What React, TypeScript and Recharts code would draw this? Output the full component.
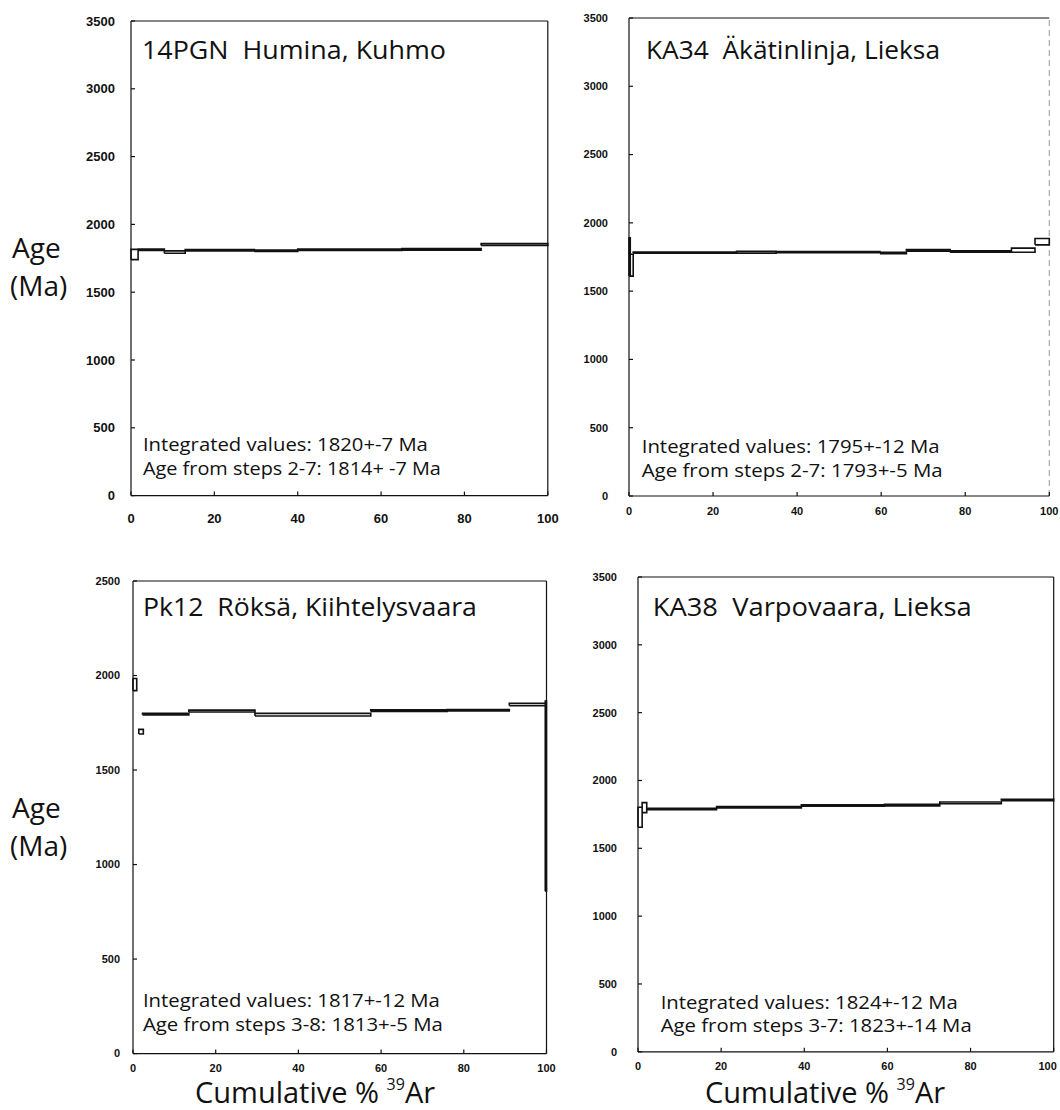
import { LineChart, Line, XAxis, YAxis, ReferenceLine } from 'recharts';

const xTicks = [0, 20, 40, 60, 80, 100];
const yTicks3500 = [0, 500, 1000, 1500, 2000, 2500, 3000, 3500];
const yTicks2500 = [0, 500, 1000, 1500, 2000, 2500];

// 14PGN Humina, Kuhmo  (step start %, end %, age Ma, +- Ma)
const humStart = [0, 1.7, 8, 13, 29.6, 40, 65, 84];
const humEnd = [1.7, 8, 13, 29.6, 40, 65, 84, 100];
const humAge = [1778, 1813, 1796, 1810, 1806, 1813, 1816, 1852];
const humErr = [38, 6, 9, 5, 5, 5, 6, 7];

// KA34 Äkätinlinja, Lieksa
const akaStart = [0, 0.3, 1, 25.6, 35, 59.7, 66, 76.4, 91, 96.6];
const akaEnd = [0.3, 1, 25.6, 35, 59.7, 66, 76.4, 91, 96.6, 100];
const akaAge = [1750, 1690, 1782, 1784, 1786, 1780, 1798, 1790, 1800, 1862];
const akaErr = [140, 80, 4, 7, 4, 5, 6, 5, 15, 23];

// Pk12 Röksä, Kiihtelysvaara
const rokStart = [0, 1.4, 2.3, 13.5, 29.5, 57.5, 76, 91, 99.7];
const rokEnd = [0.9, 2.5, 13.5, 29.5, 57.5, 76, 91, 99.7, 100];
const rokAge = [1952, 1703, 1796, 1812, 1793, 1814, 1816, 1847, 1362];
const rokErr = [32, 12, 4, 5, 7, 4, 4, 6, 503];

// KA38 Varpovaara, Lieksa
const varStart = [0, 1, 2.1, 18.9, 39.3, 59.3, 72.6, 87.4];
const varEnd = [1, 2.1, 18.9, 39.3, 59.3, 72.6, 87.4, 100];
const varAge = [1729, 1800, 1790, 1802, 1816, 1818, 1835, 1856];
const varErr = [74, 37, 5, 5, 5, 6, 6, 5];

type Pt = { x: number; y: number | null };

// each heating step drawn as a closed box, boxes separated by a null
function boxes(start: number[], end: number[], age: number[], err: number[]) {
  const pts: Pt[] = [];
  start.forEach((s, i) => {
    const lo = age[i] - err[i];
    const hi = age[i] + err[i];
    const e = end[i];
    pts.push({ x: s, y: lo }, { x: s, y: hi }, { x: e, y: hi }, { x: e, y: lo }, { x: s, y: lo }, { x: e, y: null });
  });
  return pts;
}

const ink = '#111';
const tickFamily = 'Liberation Sans, Arial, sans-serif';

function XTick(props: any) {
  const { x, y, payload, fontSize, lastDx } = props;
  const dx = payload.value === 100 ? lastDx : 0;
  return (
    <text x={x + dx} y={y} dy="0.71em" textAnchor="middle" fontSize={fontSize} fontWeight="bold" fontFamily={tickFamily} fill={ink}>
      {payload.value}
    </text>
  );
}

interface PanelProps {
  left: number;
  top: number;
  right: number;
  bottom: number;
  yMax: number;
  yTicks: number[];
  data: Pt[];
  fontSize: number;
  yGap: number;
  xGap: number;
  lastDx?: number;
  frameRight?: string;
}

function Panel({ left, top, right, bottom, yMax, yTicks, data, fontSize, yGap, xGap, lastDx = 0, frameRight = ink }: PanelProps) {
  const mt = 12;
  const mr = Math.min(20, 1060 - right);
  const yw = 60;
  const xh = 40;
  const tick = { fill: ink, fontSize, fontWeight: 'bold', fontFamily: tickFamily };
  return (
    <div style={{ position: 'absolute', left: left - yw, top: top - mt }}>
      <LineChart
        width={right - left + yw + mr}
        height={bottom - top + mt + xh}
        data={data}
        margin={{ top: mt, right: mr, bottom: 0, left: 0 }}
      >
        <XAxis
          dataKey="x"
          type="number"
          domain={[0, 100]}
          ticks={xTicks}
          interval={0}
          tickSize={-4}
          tickMargin={xGap}
          height={xh}
          stroke={ink}
          strokeWidth={1.2}
          tick={<XTick fontSize={fontSize} lastDx={lastDx} />}
        />
        <YAxis
          type="number"
          domain={[0, yMax]}
          ticks={yTicks}
          interval={0}
          tickSize={-4}
          tickMargin={yGap}
          width={yw}
          stroke={ink}
          strokeWidth={1.2}
          tick={tick}
        />
        <ReferenceLine y={yMax} stroke={ink} strokeWidth={1.2} />
        <ReferenceLine x={100} stroke={frameRight} strokeWidth={1.2} strokeDasharray={frameRight === ink ? undefined : '6 4'} />
        <Line
          dataKey="y"
          type="linear"
          stroke={ink}
          strokeWidth={1.6}
          dot={false}
          connectNulls={false}
          isAnimationActive={false}
        />
      </LineChart>
    </div>
  );
}

const gothic = '"Open Sans", "DejaVu Sans", sans-serif';

function Txt({ x, y, w, size, children }: { x: number; y: number; w?: number; size: number; children: any }) {
  return (
    <text x={x} y={y} fontSize={size} fontFamily={gothic} fill={ink} style={{ whiteSpace: 'pre' }}
      textLength={w} lengthAdjust={w ? 'spacingAndGlyphs' : undefined}>
      {children}
    </text>
  );
}

function XTitle({ x, y }: { x: number; y: number }) {
  return (
    <text x={x} y={y} fontSize={29} fontFamily={gothic} fill={ink}>
      Cumulative %{' '}
      <tspan fontSize={16} dy={-13}>39</tspan>
      <tspan dy={13}>Ar</tspan>
    </text>
  );
}

export default function App() {
  return (
    <div style={{ position: 'absolute', left: 0, top: 0, width: 1060, height: 1110, overflow: 'hidden', background: '#fff' }}>
      <Panel left={131.4} top={21.3} right={548.2} bottom={495.9} yMax={3500} yTicks={yTicks3500}
        data={boxes(humStart, humEnd, humAge, humErr)} fontSize={13} yGap={20} xGap={22} />
      <Panel left={629} top={17.9} right={1049.3} bottom={495.9} yMax={3500} yTicks={yTicks3500}
        data={boxes(akaStart, akaEnd, akaAge, akaErr)} fontSize={11} yGap={25} xGap={15} frameRight="#aaa" />
      <Panel left={132.9} top={580.7} right={546.4} bottom={1053.3} yMax={2500} yTicks={yTicks2500}
        data={boxes(rokStart, rokEnd, rokAge, rokErr)} fontSize={11} yGap={17} xGap={15} />
      <Panel left={638.3} top={577} right={1054} bottom={1051.8} yMax={3500} yTicks={yTicks3500}
        data={boxes(varStart, varEnd, varAge, varErr)} fontSize={11} yGap={25} xGap={14} lastDx={-6} />

      <svg width={1060} height={1110} style={{ position: 'absolute', left: 0, top: 0, pointerEvents: 'none' }}>
        <Txt x={142} y={58.5} w={304} size={26}>14PGN  Humina, Kuhmo</Txt>
        <Txt x={142.9} y={451} w={285} size={18}>Integrated values: 1820+-7 Ma</Txt>
        <Txt x={142.9} y={474.5} w={298} size={18}>Age from steps 2-7: 1814+ -7 Ma</Txt>

        <Txt x={646} y={58.5} w={294} size={25}>KA34  Äkätinlinja, Lieksa</Txt>
        <Txt x={641.7} y={452.8} w={298} size={18}>Integrated values: 1795+-12 Ma</Txt>
        <Txt x={641.7} y={477} w={301} size={18}>Age from steps 2-7: 1793+-5 Ma</Txt>

        <Txt x={142.9} y={616.3} w={334} size={25}>Pk12  Röksä, Kiihtelysvaara</Txt>
        <Txt x={142.9} y={1007} w={297} size={18}>Integrated values: 1817+-12 Ma</Txt>
        <Txt x={142.9} y={1030.7} w={300} size={18}>Age from steps 3-8: 1813+-5 Ma</Txt>

        <Txt x={652.7} y={615.6} w={319} size={25}>KA38  Varpovaara, Lieksa</Txt>
        <Txt x={660.7} y={1008.5} w={297} size={18}>Integrated values: 1824+-12 Ma</Txt>
        <Txt x={660.7} y={1032} w={311} size={18}>Age from steps 3-7: 1823+-14 Ma</Txt>

        <Txt x={12} y={258} size={28}>Age</Txt>
        <Txt x={10} y={296} size={28}>(Ma)</Txt>
        <Txt x={12} y={818} size={28}>Age</Txt>
        <Txt x={10} y={856} size={28}>(Ma)</Txt>

        <XTitle x={195} y={1103} />
        <XTitle x={705} y={1103} />
      </svg>
    </div>
  );
}
